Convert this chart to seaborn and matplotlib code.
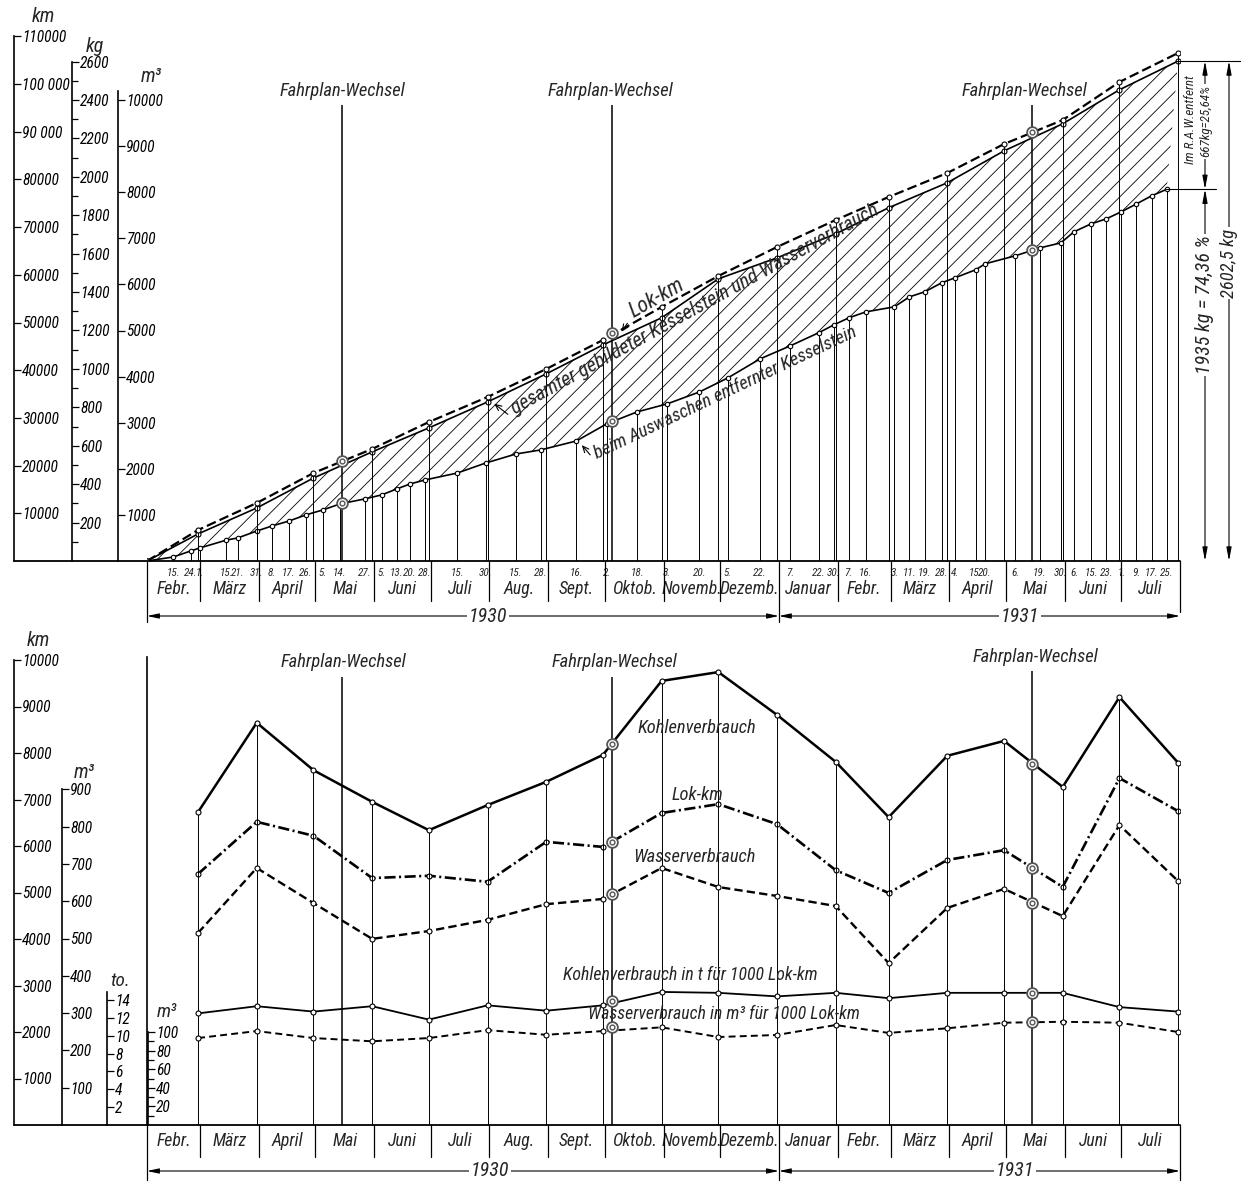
#!/usr/bin/env python3
"""
Kesselstein, Lok-km, Kohlen- und Wasserverbrauch 1930/31
Nachzeichnung eines historischen Schaubilds (zwei Teilbilder).
"""

import numpy as np
import pandas as pd
import matplotlib
matplotlib.use("Agg")
import matplotlib.pyplot as plt
import matplotlib.dates as mdates
import matplotlib.transforms as mtransforms
from matplotlib import font_manager
from matplotlib.font_manager import FontProperties
from matplotlib.textpath import TextPath
from matplotlib.lines import Line2D
from matplotlib.patches import FancyArrowPatch
import seaborn as sns

# =============================================================================
# DATEN
# =============================================================================

# Oberes Bild: Summenlinien, jeweils am Monatsende
MONATSENDEN = ["1930-02-01", "1930-02-28", "1930-03-31", "1930-04-30", "1930-05-31",
               "1930-06-30", "1930-07-31", "1930-08-31", "1930-09-30", "1930-10-31",
               "1930-11-30", "1930-12-31", "1931-01-31", "1931-02-28", "1931-03-31",
               "1931-04-30", "1931-05-31", "1931-06-30", "1931-07-31"]
LOK_KM_SUMME = [0, 6500, 12160, 18450, 23480, 29140, 34380, 40250, 46330, 53250,
                59750, 65830, 71490, 76310, 81340, 87420, 92450, 100420, 106500]
KESSELSTEIN_GESAMT_KG = [0, 141, 276, 432, 568, 693, 828, 974, 1125, 1266,
                         1469, 1578, 1703, 1839, 1969, 2135, 2276, 2453, 2602.5]

# Auswaschtage und bis dahin entfernter Kesselstein (kg)
WASCHTAGE = ["1930-02-01", "1930-02-15", "1930-02-24", "1930-03-01", "1930-03-15",
             "1930-03-21", "1930-03-31", "1930-04-08", "1930-04-17", "1930-04-26",
             "1930-05-05", "1930-05-14", "1930-05-27", "1930-06-05", "1930-06-13",
             "1930-06-20", "1930-06-28", "1930-07-15", "1930-07-30", "1930-08-15",
             "1930-08-28", "1930-09-16", "1930-10-02", "1930-10-18", "1930-11-03",
             "1930-11-20", "1930-12-05", "1930-12-22", "1931-01-07", "1931-01-22",
             "1931-01-30", "1931-02-07", "1931-02-16", "1931-03-03", "1931-03-11",
             "1931-03-19", "1931-03-28", "1931-04-04", "1931-04-15", "1931-04-20",
             "1931-05-06", "1931-05-19", "1931-05-30", "1931-06-06", "1931-06-15",
             "1931-06-23", "1931-07-01", "1931-07-09", "1931-07-17", "1931-07-25"]
KESSELSTEIN_ENTFERNT_KG = [0, 21, 52, 68, 109, 120, 156, 182, 208, 240,
                           266, 297, 323, 344, 375, 401, 422, 458, 510, 557,
                           578, 625, 714, 776, 818, 880, 953, 1052, 1120, 1188,
                           1229, 1266, 1297, 1323, 1375, 1401, 1448, 1474, 1516, 1547,
                           1589, 1630, 1656, 1714, 1755, 1781, 1818, 1859, 1901, 1935]

FAHRPLAN_WECHSEL = ["1930-05-15", "1930-10-05", "1931-05-15"]
FW_LOK_KM_SUMME = [20960, 47800, 89940]
FW_ENTFERNT_KG = [300, 729, 1620]

# Unteres Bild: Monatswerte (am Monatsende eingetragen)
MONATE = ["Febr.", "März", "April", "Mai", "Juni", "Juli", "Aug.", "Sept.", "Oktob.",
          "Novemb.", "Dezemb.", "Januar", "Febr.", "März", "April", "Mai", "Juni", "Juli"]
KOHLE_T = [67.3, 86.5, 76.3, 69.5, 63.4, 68.8, 73.8, 79.6, 95.5,
           97.4, 88.2, 78.1, 66.2, 79.4, 82.6, 72.7, 92.0, 77.9]
LOK_KM_MONAT = [5400, 6520, 6220, 5310, 5360, 5230, 6090, 5980, 6710,
                6900, 6470, 5480, 4990, 5700, 5910, 5120, 7460, 6750]
WASSER_M3 = [515, 689, 595, 499, 520, 550, 592, 606, 689,
             638, 614, 587, 434, 582, 633, 560, 804, 654]
KOHLE_T_JE_1000_KM = [12.5, 13.3, 12.7, 13.3, 11.8, 13.4, 12.8, 13.4, 14.9,
                      14.8, 14.4, 14.8, 14.2, 14.8, 14.8, 14.8, 13.2, 12.7]
WASSER_M3_JE_1000_KM = [93.5, 101, 93.5, 90, 93.5, 102, 97, 101, 105,
                        94.6, 96.8, 107.5, 99, 104, 110, 111, 110, 100]

FW_UNTEN = ["1930-10-05", "1931-05-15"]
FW_KOHLE_T = [81.9, 77.6]
FW_LOK_KM_MONAT = [6090, 5530]
FW_WASSER_M3 = [619, 595]
FW_KOHLE_JE_1000 = [13.9, 14.8]
FW_WASSER_JE_1000 = [105, 111]

# =============================================================================
# LAYOUT (Pixel)
# =============================================================================

W, H = 1241, 1182
X0, X1 = 147, 1180
OBEN_BASIS = 561
UNTEN_OBEN, UNTEN_BASIS = 640, 1125

# Maßstäbe: Pixel je Einheit
PX_KM_O, PX_KG_O, PX_M3_O = 0.00477, 0.1921, 0.0461
PX_KM_U, PX_M3_U, PX_TO_U, PX_M3K_U = 0.0465, 0.373, 8.93, 0.93

sns.set_style("white")
plt.rcParams["font.family"] = ["DejaVu Sans"]
plt.rcParams["font.style"] = "italic"
plt.rcParams["lines.scale_dashes"] = False
plt.rcParams["hatch.linewidth"] = 0.6


# schmale Kursivschrift suchen (Normschrift-Ersatz)
def _verhaeltnis(prop):
    b = TextPath((0, 0), "Fahrplan-Wechsel", size=10, prop=prop).get_extents().width
    h = TextPath((0, 0), "H", size=10, prop=prop).get_extents().height
    return b / h


def _schrift():
    erlaubt = ("Liberation Sans", "Noto Sans", "DejaVu Sans", "Roboto", "Open Sans", "Lato", "Inter")
    best, best_r = None, None
    for f in font_manager.fontManager.ttflist:
        if f.style not in ("italic", "oblique"):
            continue
        if not f.name.startswith(erlaubt) or any(k in f.name for k in ("Mono", "CJK", "Symbol", "Math")):
            continue
        w = f.weight if isinstance(f.weight, (int, float)) else font_manager.weight_dict.get(f.weight, 400)
        if not 350 <= w <= 500:
            continue
        try:
            r = _verhaeltnis(FontProperties(fname=f.fname))
        except Exception:
            continue
        if best_r is None or abs(r - 8.8) < abs(best_r - 8.8):
            best, best_r = f.fname, r
    return best, best_r


SCHRIFT, _r = _schrift()
if SCHRIFT is None:
    _r = _verhaeltnis(FontProperties(family="DejaVu Sans", style="italic", stretch="condensed"))
K = min(1.2, max(0.8, 10.2 / _r))


def fp(size):
    if SCHRIFT is None:
        return FontProperties(family="DejaVu Sans", style="italic", stretch="condensed", size=size * K)
    return FontProperties(fname=SCHRIFT, size=size * K)


fig = plt.figure(figsize=(W / 100, H / 100), dpi=100)


def box(left, top, right, bottom):
    return [left / W, 1 - bottom / H, (right - left) / W, (bottom - top) / H]


def fx(x):
    return x / W


def fy(y):
    return 1 - y / H


def num(dates):
    return mdates.date2num(pd.to_datetime(dates))


def txt(x, y, s, size=12, **kw):
    kw.setdefault("ha", "center")
    kw.setdefault("va", "center")
    fig.text(fx(x), fy(y), s, fontproperties=fp(size), **kw)


def linie(x0, y0, x1, y1, lw=1.0, transform=None):
    if transform is None:
        fig.add_artist(Line2D([fx(x0), fx(x1)], [fy(y0), fy(y1)], color="black", lw=lw))
    else:
        fig.add_artist(Line2D([x0, x1], [y0, y1], color="black", lw=lw, transform=transform))


def pfeil(x0, y0, x1, y1):
    fig.add_artist(FancyArrowPatch((fx(x0), fy(y0)), (fx(x1), fy(y1)), transform=fig.transFigure,
                                   arrowstyle="->,head_length=0.45,head_width=0.2",
                                   mutation_scale=10, lw=0.8, color="black"))


def linie_plot(ax, x, y, ls="-", lw=1.2, ms=3.6):
    sns.lineplot(x=x, y=y, ax=ax, color="black", linewidth=lw, linestyle=ls,
                 marker="o", markersize=ms, markerfacecolor="white",
                 markeredgecolor="black", markeredgewidth=0.8,
                 estimator=None, sort=False, legend=False, zorder=4)


def fw_kreise(ax, x, y):
    ax.scatter(x, y, s=60, facecolor="white", edgecolor="#555555", linewidth=1.3, zorder=6)
    ax.scatter(x, y, s=12, facecolor="white", edgecolor="#555555", linewidth=1.0, zorder=7)


def leer(ax):
    for s in ax.spines.values():
        s.set_visible(False)
    ax.set_yticks([])
    ax.set_ylabel("")
    ax.set_xlabel("")
    ax.patch.set_visible(False)


def skala(x, top, basis, px, grenze, major, labels=None, minor=None, size=10.5):
    a = fig.add_axes(box(x - 1, top, x, basis))
    a.set_ylim(0, (basis - top) / px)
    a.patch.set_visible(False)
    for s in ("left", "top", "bottom"):
        a.spines[s].set_visible(False)
    a.spines["right"].set_visible(True)
    a.spines["right"].set_bounds(0, grenze)
    a.spines["right"].set_linewidth(1.2)
    a.spines["right"].set_color("black")
    a.set_yticks(major, labels=labels if labels is not None else [str(m) for m in major],
                 fontproperties=fp(size))
    if minor is not None:
        a.set_yticks(minor, minor=True)
    a.tick_params(axis="y", which="both", left=False, right=True, labelleft=False,
                  labelright=True, direction="out", length=5, width=0.9, pad=1, colors="black")
    a.tick_params(axis="y", which="minor", length=4)
    a.set_xticks([])
    return a


T0, T1 = num(["1930-02-01", "1931-08-01"])
monats_anfang = num(pd.date_range("1930-02-01", "1931-08-01", freq="MS"))
monats_mitte = (monats_anfang[:-1] + monats_anfang[1:]) / 2
jan31 = num(["1931-01-01"])[0]

mon_x = num(MONATSENDEN)
wasch_x = num(WASCHTAGE)
fw_x = num(FAHRPLAN_WECHSEL)

# =============================================================================
# OBERES BILD
# =============================================================================

oben = fig.add_axes(box(X0, 0, X1, OBEN_BASIS))
oben_km = oben.twinx()

oben.fill(np.r_[mon_x, wasch_x[::-1]],
          np.r_[KESSELSTEIN_GESAMT_KG, KESSELSTEIN_ENTFERNT_KG[::-1]],
          facecolor="none", edgecolor="black", hatch="//", lw=0, zorder=1)
oben.vlines(wasch_x[1:], 0, KESSELSTEIN_ENTFERNT_KG[1:], color="black", lw=0.7, zorder=2)
oben_km.vlines(mon_x[1:], 0, LOK_KM_SUMME[1:], color="black", lw=0.7, zorder=2)
oben.vlines(fw_x, 0, (OBEN_BASIS - 105) / PX_KG_O, color="black", lw=1.1, zorder=2)

linie_plot(oben, mon_x, KESSELSTEIN_GESAMT_KG, lw=1.2)
linie_plot(oben, wasch_x, KESSELSTEIN_ENTFERNT_KG, lw=1.2, ms=3.2)
linie_plot(oben_km, mon_x, LOK_KM_SUMME, ls=(0, (7, 3)), lw=1.6)
fw_kreise(oben_km, fw_x, FW_LOK_KM_SUMME)
fw_kreise(oben, fw_x, FW_ENTFERNT_KG)

for a in (oben, oben_km):
    leer(a)
    a.set_xlim(T0, T1)
    a.set_xticks([])
oben.set_ylim(0, OBEN_BASIS / PX_KG_O)
oben_km.set_ylim(0, OBEN_BASIS / PX_KM_O)

tr_o = mtransforms.blended_transform_factory(oben.transData, fig.transFigure)
for xw, d in zip(wasch_x[1:], WASCHTAGE[1:]):
    oben.text(xw, fy(573), f"{pd.Timestamp(d).day}.", transform=tr_o,
              ha="center", va="center", fontproperties=fp(7.5))
for xm, name in zip(monats_mitte, MONATE):
    oben.text(xm, fy(589), name, transform=tr_o, ha="center", va="center", fontproperties=fp(12))
for xa in monats_anfang:
    unten_ende = 622 if xa in (T0, jan31) else (612 if xa == T1 else 601)
    linie(xa, fy(OBEN_BASIS), xa, fy(unten_ende), lw=0.9, transform=tr_o)

for (a, b) in ((T0, jan31), (jan31, T1)):
    oben.annotate("", xy=(b, fy(616)), xytext=(a, fy(616)), xycoords=tr_o, textcoords=tr_o,
                  arrowprops=dict(arrowstyle="<|-|>,head_length=0.7,head_width=0.15",
                                  lw=0.8, color="black", shrinkA=0, shrinkB=0),
                  annotation_clip=False)
txt(488, 616, "1930", size=13.5, bbox=dict(fc="white", ec="none", pad=1))
txt(1020, 616, "1931", size=13.5, bbox=dict(fc="white", ec="none", pad=1))

linie(14, OBEN_BASIS, X1, OBEN_BASIS, lw=1.3)

for xp in (342, 610, 1024):
    txt(xp, 91, "Fahrplan-Wechsel", size=12.5)

# Beschriftung der Linien (linksbündig am Pfeil)
txt(631, 313, "Lok-km", size=14.5, rotation=29.5, rotation_mode="anchor", ha="left")
pfeil(629, 321, 620, 334)
txt(512, 410, "gesamter gebildeter Kesselstein und Wasserverbrauch", size=13.5,
    rotation=28.8, rotation_mode="anchor", ha="left")
pfeil(510, 416, 492, 402)
txt(595, 454, "beim Auswaschen entfernter Kesselstein", size=12.5,
    rotation=25.3, rotation_mode="anchor", ha="left")
pfeil(592, 457, 580, 443)

# Bemaßung rechts
tr_r = mtransforms.blended_transform_factory(fig.transFigure, oben.transData)
ges_end = KESSELSTEIN_GESAMT_KG[-1]
entf_end = KESSELSTEIN_ENTFERNT_KG[-1]
linie(fx(1176), ges_end, fx(1241), ges_end, lw=0.8, transform=tr_r)
linie(fx(1166), entf_end, fx(1216), entf_end, lw=0.8, transform=tr_r)
stil = dict(arrowstyle="<|-|>,head_length=0.8,head_width=0.15", lw=0.8, color="black",
            shrinkA=0, shrinkB=0)
for xp, y0, y1 in ((1205, entf_end, ges_end), (1205, 0, entf_end), (1229, 0, ges_end)):
    oben.annotate("", xy=(fx(xp), y1), xytext=(fx(xp), y0), xycoords=tr_r, textcoords=tr_r,
                  arrowprops=stil, annotation_clip=False)
weiss = dict(fc="white", ec="none", pad=1)
oben.text(fx(1190), 2300, "Im R.A.W.entfernt", transform=tr_r, rotation=90,
          ha="center", va="center", fontproperties=fp(8.8))
oben.text(fx(1206), 2290, "667kg=25,64%", transform=tr_r, rotation=90,
          ha="center", va="center", fontproperties=fp(8.8), bbox=weiss)
oben.text(fx(1205), 1333, "1935 kg = 74,36 %", transform=tr_r, rotation=90,
          ha="center", va="center", fontproperties=fp(13.5), bbox=weiss)
oben.text(fx(1229), 1551, "2602,5 kg", transform=tr_r, rotation=90,
          ha="center", va="center", fontproperties=fp(12.5), bbox=weiss)

# Maßstäbe oben
km_ticks = list(range(10000, 110001, 10000))
km_labels = [f"{k}" for k in km_ticks]
km_labels[8], km_labels[9] = "90 000", "100 000"
skala(14, 0, OBEN_BASIS, PX_KM_O, 110000, km_ticks, km_labels)
skala(72, 0, OBEN_BASIS, PX_KG_O, 2600, list(range(200, 2601, 200)),
      minor=list(range(100, 2600, 200)))
skala(118, 0, OBEN_BASIS, PX_M3_O, 10200, list(range(1000, 10001, 1000)))
txt(43, 17, "km", size=13.5)
txt(95, 46, "kg", size=13.5)
txt(151, 77, "m³", size=13.5)

# =============================================================================
# UNTERES BILD
# =============================================================================

hoehe = UNTEN_BASIS - UNTEN_OBEN
unten = fig.add_axes(box(X0, UNTEN_OBEN, X1, UNTEN_BASIS))
u_kohle = unten.twinx()
u_wasser = unten.twinx()
u_to = unten.twinx()
u_m3k = unten.twinx()

mx = mon_x[1:]
fw_u = num(FW_UNTEN)

u_kohle.vlines(mx, 0, KOHLE_T, color="black", lw=0.7, zorder=2)
unten.vlines(fw_x, 0, [(UNTEN_BASIS - 677) / PX_KM_U] * 2 + [(UNTEN_BASIS - 671) / PX_KM_U],
             color="black", lw=1.1, zorder=2)

linie_plot(u_kohle, mx, KOHLE_T, lw=1.8)
linie_plot(unten, mx, LOK_KM_MONAT, ls=(0, (8, 2.5, 1.5, 2.5)), lw=1.9)
linie_plot(u_wasser, mx, WASSER_M3, ls=(0, (6, 3)), lw=1.7)
linie_plot(u_to, mx, KOHLE_T_JE_1000_KM, lw=1.3)
linie_plot(u_m3k, mx, WASSER_M3_JE_1000_KM, ls=(0, (5, 3)), lw=1.4)

fw_kreise(u_kohle, fw_u, FW_KOHLE_T)
fw_kreise(unten, fw_u, FW_LOK_KM_MONAT)
fw_kreise(u_wasser, fw_u, FW_WASSER_M3)
fw_kreise(u_to, fw_u, FW_KOHLE_JE_1000)
fw_kreise(u_m3k, fw_u, FW_WASSER_JE_1000)

for a in (unten, u_kohle, u_wasser, u_to, u_m3k):
    leer(a)
    a.set_xlim(T0, T1)
    a.set_xticks([])
unten.set_ylim(0, hoehe / PX_KM_U)
u_kohle.set_ylim(0, hoehe / PX_KM_U / 100)
u_wasser.set_ylim(0, hoehe / PX_M3_U)
u_to.set_ylim(0, hoehe / PX_TO_U)
u_m3k.set_ylim(0, hoehe / PX_M3K_U)
unten.spines["left"].set_visible(True)
unten.spines["left"].set_color("black")
unten.spines["left"].set_linewidth(1.2)
unten.spines["left"].set_bounds(0, (UNTEN_BASIS - 657) / PX_KM_U)

tr_u = mtransforms.blended_transform_factory(unten.transData, fig.transFigure)
for xm, name in zip(monats_mitte, MONATE):
    unten.text(xm, fy(1141), name, transform=tr_u, ha="center", va="center", fontproperties=fp(12))
for xa in monats_anfang:
    unten_ende = 1180 if xa in (T0, jan31, T1) else 1157
    linie(xa, fy(UNTEN_BASIS), xa, fy(unten_ende), lw=0.9, transform=tr_u)
for (a, b) in ((T0, jan31), (jan31, T1)):
    unten.annotate("", xy=(b, fy(1171)), xytext=(a, fy(1171)), xycoords=tr_u, textcoords=tr_u,
                   arrowprops=dict(arrowstyle="<|-|>,head_length=0.7,head_width=0.15",
                                   lw=0.8, color="black", shrinkA=0, shrinkB=0),
                   annotation_clip=False)
txt(490, 1171, "1930", size=13.5, bbox=dict(fc="white", ec="none", pad=1))
txt(1015, 1171, "1931", size=13.5, bbox=dict(fc="white", ec="none", pad=1))

linie(14, UNTEN_BASIS, X1, UNTEN_BASIS, lw=1.3)

for xp, yp in ((343, 662), (614, 662), (1035, 657)):
    txt(xp, yp, "Fahrplan-Wechsel", size=12.5)
txt(697, 728, "Kohlenverbrauch", size=12.5)
txt(697, 795, "Lok-km", size=12.5)
txt(694, 857, "Wasserverbrauch", size=12.5)
txt(690, 975, "Kohlenverbrauch in t für 1000 Lok-km", size=12)
txt(724, 1014, "Wasserverbrauch in m³ für 1000 Lok-km", size=12)

# Maßstäbe unten
skala(14, UNTEN_OBEN, UNTEN_BASIS, PX_KM_U, 10000, list(range(1000, 10001, 1000)))
skala(62, UNTEN_OBEN, UNTEN_BASIS, PX_M3_U, 900, list(range(100, 901, 100)))
skala(107, UNTEN_OBEN, UNTEN_BASIS, PX_TO_U, 14.9, list(range(2, 15, 2)))
skala(148, UNTEN_OBEN, UNTEN_BASIS, PX_M3K_U, 100, list(range(20, 101, 20)),
      minor=list(range(10, 100, 20)))
txt(38, 641, "km", size=13.5)
txt(84, 772, "m³", size=13.5)
txt(120, 981, "to.", size=13)
txt(167, 1012, "m³", size=13)

fig.savefig("out.png", dpi=100)
